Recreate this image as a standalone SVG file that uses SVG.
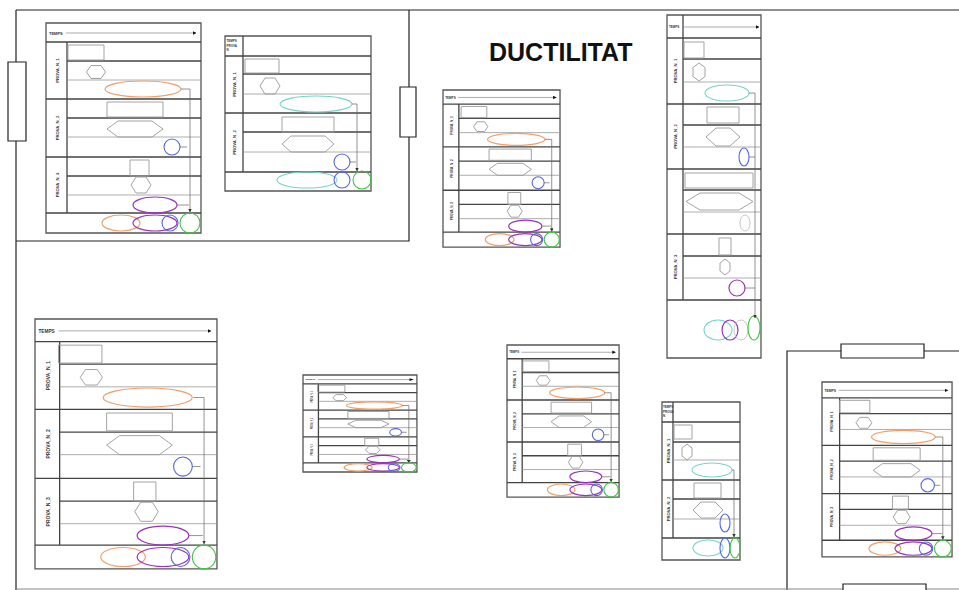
<svg xmlns="http://www.w3.org/2000/svg" width="959" height="590" viewBox="0 0 959 590">
<style>
*{vector-effect:non-scaling-stroke}
.bg{fill:#fff}
.ol{fill:none;stroke:#222;stroke-width:1.2}
.rs{fill:#fff;stroke:#222;stroke-width:1.2}
.fr{fill:#fff;stroke:#555;stroke-width:1.3}
.ln{fill:none;stroke:#444;stroke-width:1.3}
.sl{fill:none;stroke:#999;stroke-width:0.8}
.ha{stroke:#888;stroke-width:0.7}
.sh{fill:none;stroke:#999;stroke-width:0.9}
.or{fill:none;stroke:#f0a068;stroke-width:1.2}
.bl{fill:none;stroke:#5566dd;stroke-width:1.1}
.pu{fill:none;stroke:#9933bb;stroke-width:1.2}
.gr{fill:none;stroke:#44c444;stroke-width:1.1}
.cy{fill:none;stroke:#77d4cc;stroke-width:1.1}
.lg{fill:none;stroke:#c8c8c8;stroke-width:1}
.cn{fill:none;stroke:#666;stroke-width:0.7}
.tp{font-family:"Liberation Sans",Arial,sans-serif;font-size:4px;font-weight:bold;fill:#333}
.ts{font-family:"Liberation Sans",Arial,sans-serif;font-size:3px;font-weight:bold;fill:#333}
.lb{font-family:"Liberation Sans",Arial,sans-serif;font-size:4.2px;font-weight:bold;fill:#333;text-anchor:middle}
.tt{font-family:"Liberation Sans",Arial,sans-serif;font-size:25px;font-weight:bold;fill:#111}
</style>
<defs>
<marker id="ah" viewBox="0 0 10 10" refX="9" refY="5" markerWidth="5" markerHeight="5" orient="auto"><path d="M0 0L10 5L0 10z" fill="#111"/></marker>
<marker id="ca" viewBox="0 0 10 10" refX="9" refY="5" markerWidth="5" markerHeight="5" orient="auto"><path d="M0 0L10 5L0 10z" fill="#333"/></marker>
</defs>
<rect class="bg" width="959" height="590"/>

<g id="frame">
<path class="ol" d="M16 241H409V10M16 10H959M16 10V590M959 351H787V590"/>
<path d="M16 589H959" fill="none" stroke="#888" stroke-width="1"/>
<rect class="rs" x="8" y="62" width="18" height="79"/>
<rect class="rs" x="400" y="87" width="16" height="50"/>
<rect class="rs" x="841" y="344" width="83" height="14"/>
<rect class="rs" x="843" y="584" width="83" height="10"/>
</g>

<text id="title" class="tt" x="489" y="61">DUCTILITAT</text>

<g id="chartA" transform="translate(46,23)">
<rect class="fr" x="0" y="0" width="155" height="210"/>
<text class="tp" x="3" y="11.5">TEMPS</text>
<line class="ha" x1="20" y1="10" x2="150" y2="10" marker-end="url(#ah)"/>
<path class="ln" d="M0 19H155M0 76H155M0 134H155M0 190H155M21 19V190M21 38H155M21 95H155M21 153H155"/>
<path class="sl" d="M21 57H155M21 114H155M21 172H155"/>
<text class="lb" transform="translate(13,47.5) rotate(-90)">PROVA_N_1</text>
<text class="lb" transform="translate(13,105) rotate(-90)">PROVA_N_2</text>
<text class="lb" transform="translate(13,162) rotate(-90)">PROVA_N_3</text>
<rect class="sh" x="22" y="22" width="36" height="15"/>
<polygon class="sh" points="40.5,49 45,42.5 55,42.5 59.5,49 55,55.5 45,55.5"/>
<ellipse class="or" cx="97" cy="66" rx="38" ry="8"/>
<rect class="sh" x="61" y="79" width="56" height="15"/>
<polygon class="sh" points="61,106 72,98 106,98 117,106 106,114 72,114"/>
<circle class="bl" cx="126" cy="124" r="8"/>
<rect class="sh" x="84" y="137" width="19" height="16"/>
<polygon class="sh" points="85,162 90,154 100,154 105,162 100,170 90,170"/>
<ellipse class="pu" cx="109" cy="182" rx="22" ry="8"/>
<ellipse class="or" cx="75" cy="200" rx="19" ry="8"/>
<ellipse class="pu" cx="109" cy="200" rx="22" ry="8"/>
<circle class="bl" cx="124" cy="200" r="8"/>
<circle class="gr" cx="144" cy="200" r="10"/>
<path class="cn" d="M135 66H144V189" marker-end="url(#ca)"/>
<path class="cn" d="M134 124H141M131 182H143"/>
</g>

<g id="chartB" transform="translate(225,36)">
<rect class="fr" x="0" y="0" width="146" height="155"/>
<text class="ts" x="1.5" y="6">TEMPS</text>
<text class="ts" x="1.5" y="10.5">PROVA</text>
<text class="ts" x="1.5" y="15">N</text>
<path class="ln" d="M0 20H146M0 77H146M0 136H146M18 0V136M18 38H146M18 96H146"/>
<path class="sl" d="M18 58H146M18 116H146"/>
<text class="lb" transform="translate(11,48.5) rotate(-90)">PROVA_N_1</text>
<text class="lb" transform="translate(11,106.5) rotate(-90)">PROVA_N_2</text>
<rect class="sh" x="20" y="23" width="34" height="14"/>
<polygon class="sh" points="35,50 40,42 50,42 55,50 50,58 40,58"/>
<ellipse class="cy" cx="91" cy="68" rx="36" ry="8"/>
<rect class="sh" x="57" y="81" width="52" height="15"/>
<polygon class="sh" points="57,108 66,100 100,100 109,108 100,116 66,116"/>
<circle class="bl" cx="117" cy="126" r="8"/>
<ellipse class="cy" cx="82" cy="144" rx="30" ry="8"/>
<circle class="bl" cx="117" cy="144" r="8"/>
<circle class="gr" cx="137" cy="144" r="9"/>
<path class="cn" d="M127 68H132V135" marker-end="url(#ca)"/>
<path class="cn" d="M125 126H131"/>
</g>

<g id="chartC" transform="translate(443,90) scale(0.755,0.748)">
<rect class="fr" x="0" y="0" width="155" height="210"/>
<text class="tp" x="3" y="11.5">TEMPS</text>
<line class="ha" x1="20" y1="10" x2="150" y2="10" marker-end="url(#ah)"/>
<path class="ln" d="M0 19H155M0 76H155M0 134H155M0 190H155M21 19V190M21 38H155M21 95H155M21 153H155"/>
<path class="sl" d="M21 57H155M21 114H155M21 172H155"/>
<text class="lb" transform="translate(13,47.5) rotate(-90)">PROVA_N_1</text>
<text class="lb" transform="translate(13,105) rotate(-90)">PROVA_N_2</text>
<text class="lb" transform="translate(13,162) rotate(-90)">PROVA_N_3</text>
<rect class="sh" x="24" y="22" width="34" height="15"/>
<polygon class="sh" points="40.5,49 45,42.5 55,42.5 59.5,49 55,55.5 45,55.5"/>
<ellipse class="or" cx="97" cy="66" rx="38" ry="8"/>
<rect class="sh" x="61" y="79" width="56" height="15"/>
<polygon class="sh" points="61,106 72,98 106,98 117,106 106,114 72,114"/>
<circle class="bl" cx="126" cy="124" r="8"/>
<rect class="sh" x="86" y="137" width="17" height="16"/>
<polygon class="sh" points="85,162 90,154 100,154 105,162 100,170 90,170"/>
<ellipse class="pu" cx="109" cy="182" rx="22" ry="8"/>
<ellipse class="or" cx="75" cy="200" rx="19" ry="8"/>
<ellipse class="pu" cx="109" cy="200" rx="22" ry="8"/>
<circle class="bl" cx="124" cy="200" r="8"/>
<circle class="gr" cx="144" cy="200" r="10"/>
<path class="cn" d="M135 66H144V189" marker-end="url(#ca)"/>
<path class="cn" d="M134 124H141M131 182H143"/>
</g>

<g id="chartD" transform="translate(35,319) scale(1.174,1.19)">
<rect class="fr" x="0" y="0" width="155" height="210"/>
<text class="tp" x="3" y="11.5">TEMPS</text>
<line class="ha" x1="20" y1="10" x2="150" y2="10" marker-end="url(#ah)"/>
<path class="ln" d="M0 19H155M0 76H155M0 134H155M0 190H155M21 19V190M21 38H155M21 95H155M21 153H155"/>
<path class="sl" d="M21 57H155M21 114H155M21 172H155"/>
<text class="lb" transform="translate(13,47.5) rotate(-90)">PROVA_N_1</text>
<text class="lb" transform="translate(13,105) rotate(-90)">PROVA_N_2</text>
<text class="lb" transform="translate(13,162) rotate(-90)">PROVA_N_3</text>
<rect class="sh" x="20" y="22" width="37" height="15"/>
<polygon class="sh" points="38.5,49 43,42.5 53,42.5 57.5,49 53,55.5 43,55.5"/>
<ellipse class="or" cx="96" cy="66" rx="38" ry="8"/>
<rect class="sh" x="61" y="79" width="56" height="15"/>
<polygon class="sh" points="61,106 72,98 106,98 117,106 106,114 72,114"/>
<circle class="bl" cx="126" cy="124" r="8"/>
<rect class="sh" x="84" y="137" width="19" height="16"/>
<polygon class="sh" points="85,162 90,154 100,154 105,162 100,170 90,170"/>
<ellipse class="pu" cx="109" cy="182" rx="22" ry="8"/>
<ellipse class="or" cx="75" cy="200" rx="19" ry="8"/>
<ellipse class="pu" cx="109" cy="200" rx="22" ry="8"/>
<circle class="bl" cx="124" cy="200" r="8"/>
<circle class="gr" cx="144" cy="200" r="10"/>
<path class="cn" d="M135 66H144V189" marker-end="url(#ca)"/>
<path class="cn" d="M134 124H141M131 182H143"/>
</g>

<g id="chartE" transform="translate(822,382) scale(0.839,0.833)">
<rect class="fr" x="0" y="0" width="155" height="210"/>
<text class="tp" x="3" y="11.5">TEMPS</text>
<line class="ha" x1="20" y1="10" x2="150" y2="10" marker-end="url(#ah)"/>
<path class="ln" d="M0 19H155M0 76H155M0 134H155M0 190H155M21 19V190M21 38H155M21 95H155M21 153H155"/>
<path class="sl" d="M21 57H155M21 114H155M21 172H155"/>
<text class="lb" transform="translate(13,47.5) rotate(-90)">PROVA_N_1</text>
<text class="lb" transform="translate(13,105) rotate(-90)">PROVA_N_2</text>
<text class="lb" transform="translate(13,162) rotate(-90)">PROVA_N_3</text>
<rect class="sh" x="21" y="22" width="36" height="15"/>
<polygon class="sh" points="40.5,49 45,42.5 55,42.5 59.5,49 55,55.5 45,55.5"/>
<ellipse class="or" cx="97" cy="66" rx="38" ry="8"/>
<rect class="sh" x="61" y="79" width="56" height="15"/>
<polygon class="sh" points="61,106 72,98 106,98 117,106 106,114 72,114"/>
<circle class="bl" cx="126" cy="124" r="8"/>
<rect class="sh" x="84" y="137" width="19" height="16"/>
<polygon class="sh" points="85,162 90,154 100,154 105,162 100,170 90,170"/>
<ellipse class="pu" cx="109" cy="182" rx="22" ry="8"/>
<ellipse class="or" cx="75" cy="200" rx="19" ry="8"/>
<ellipse class="pu" cx="109" cy="200" rx="22" ry="8"/>
<circle class="bl" cx="124" cy="200" r="8"/>
<circle class="gr" cx="144" cy="200" r="10"/>
<path class="cn" d="M135 66H144V189" marker-end="url(#ca)"/>
<path class="cn" d="M134 124H141M131 182H143"/>
</g>

<g id="chartF" transform="translate(507,345) scale(0.723,0.724)">
<rect class="fr" x="0" y="0" width="155" height="210"/>
<text class="tp" x="3" y="11.5">TEMPS</text>
<line class="ha" x1="20" y1="10" x2="150" y2="10" marker-end="url(#ah)"/>
<path class="ln" d="M0 19H155M0 76H155M0 134H155M0 190H155M21 19V190M21 38H155M21 95H155M21 153H155"/>
<path class="sl" d="M21 57H155M21 114H155M21 172H155"/>
<text class="lb" transform="translate(13,47.5) rotate(-90)">PROVA_N_1</text>
<text class="lb" transform="translate(13,105) rotate(-90)">PROVA_N_2</text>
<text class="lb" transform="translate(13,162) rotate(-90)">PROVA_N_3</text>
<rect class="sh" x="22" y="22" width="36" height="15"/>
<polygon class="sh" points="40.5,49 45,42.5 55,42.5 59.5,49 55,55.5 45,55.5"/>
<ellipse class="or" cx="97" cy="66" rx="38" ry="8"/>
<rect class="sh" x="61" y="79" width="56" height="15"/>
<polygon class="sh" points="61,106 72,98 106,98 117,106 106,114 72,114"/>
<circle class="bl" cx="126" cy="124" r="8"/>
<rect class="sh" x="84" y="137" width="19" height="16"/>
<polygon class="sh" points="85,162 90,154 100,154 105,162 100,170 90,170"/>
<ellipse class="pu" cx="109" cy="182" rx="22" ry="8"/>
<ellipse class="or" cx="75" cy="200" rx="19" ry="8"/>
<ellipse class="pu" cx="109" cy="200" rx="22" ry="8"/>
<circle class="bl" cx="124" cy="200" r="8"/>
<circle class="gr" cx="144" cy="200" r="10"/>
<path class="cn" d="M135 66H144V189" marker-end="url(#ca)"/>
<path class="cn" d="M134 124H141M131 182H143"/>
</g>

<g id="chartG" transform="translate(303,375) scale(0.735,0.462)">
<rect class="fr" x="0" y="0" width="155" height="210"/>
<text class="tp" x="3" y="11.5">TEMPS</text>
<line class="ha" x1="20" y1="10" x2="150" y2="10" marker-end="url(#ah)"/>
<path class="ln" d="M0 19H155M0 76H155M0 134H155M0 190H155M21 19V190M21 38H155M21 95H155M21 153H155"/>
<path class="sl" d="M21 57H155M21 114H155M21 172H155"/>
<text class="lb" transform="translate(13,47.5) rotate(-90)">PROVA_N_1</text>
<text class="lb" transform="translate(13,105) rotate(-90)">PROVA_N_2</text>
<text class="lb" transform="translate(13,162) rotate(-90)">PROVA_N_3</text>
<rect class="sh" x="20" y="22" width="37" height="15"/>
<polygon class="sh" points="40.5,49 45,42.5 55,42.5 59.5,49 55,55.5 45,55.5"/>
<ellipse class="or" cx="97" cy="66" rx="38" ry="8"/>
<rect class="sh" x="61" y="79" width="56" height="15"/>
<polygon class="sh" points="61,106 72,98 106,98 117,106 106,114 72,114"/>
<circle class="bl" cx="126" cy="124" r="8"/>
<rect class="sh" x="84" y="137" width="19" height="16"/>
<polygon class="sh" points="85,162 90,154 100,154 105,162 100,170 90,170"/>
<ellipse class="pu" cx="109" cy="182" rx="22" ry="8"/>
<ellipse class="or" cx="75" cy="200" rx="19" ry="8"/>
<ellipse class="pu" cx="109" cy="200" rx="22" ry="8"/>
<circle class="bl" cx="124" cy="200" r="8"/>
<circle class="gr" cx="144" cy="200" r="10"/>
<path class="cn" d="M135 66H144V189" marker-end="url(#ca)"/>
<path class="cn" d="M134 124H141M131 182H143"/>
</g>

<g id="chartH">
<rect class="fr" x="667" y="15" width="94" height="343"/>
<text class="ts" x="669" y="28">TEMPS</text>
<line class="ha" x1="684" y1="27" x2="759" y2="27" marker-end="url(#ah)"/>
<path class="ln" d="M667 38H761M667 104H761M667 169H761M667 234H761M667 300H761M683 15V300M683 59H761M683 125H761M683 190H761M683 256H761"/>
<path class="sl" d="M683 82H761M683 147H761M683 212H761M683 278H761"/>
<text class="lb" transform="translate(677,71) rotate(-90)">PROVA_N_1</text>
<text class="lb" transform="translate(677,136.5) rotate(-90)">PROVA_N_2</text>
<text class="lb" transform="translate(677,267) rotate(-90)">PROVA_N_3</text>
<rect class="sh" x="684" y="42" width="20" height="16"/>
<polygon class="sh" points="699,63 705,67.5 705,76.5 699,81 693,76.5 693,67.5"/>
<ellipse class="cy" cx="727" cy="93" rx="22" ry="8"/>
<rect class="sh" x="707" y="107" width="32" height="16"/>
<polygon class="sh" points="706,137 716,128 730,128 740,137 730,146 716,146"/>
<ellipse class="bl" cx="744" cy="157" rx="5" ry="9"/>
<rect class="sh" x="685" y="173" width="68" height="15"/>
<polygon class="sh" points="686,201.5 700,193 739,193 753,201.5 739,210 700,210"/>
<ellipse class="lg" cx="745" cy="223" rx="5" ry="8"/>
<rect class="sh" x="719" y="238" width="12" height="17"/>
<polygon class="sh" points="725,259 730,263 730,271 725,275 720,271 720,263"/>
<circle class="pu" cx="737" cy="288" r="8"/>
<ellipse class="cy" cx="718" cy="330" rx="14" ry="10"/>
<ellipse class="pu" cx="730" cy="330" rx="8" ry="10"/>
<ellipse class="lg" cx="741" cy="330" rx="7" ry="10"/>
<ellipse class="gr" cx="754" cy="328" rx="6" ry="12"/>
<path class="cn" d="M749 93H755V318" marker-end="url(#ca)"/>
<path class="cn" d="M749 157H755M745 288H755"/>
</g>

<g id="chartI">
<rect class="fr" x="662" y="402" width="78" height="158"/>
<text class="ts" x="663" y="408">TEMPS</text>
<text class="ts" x="663" y="412.5">PROVA</text>
<text class="ts" x="663" y="417">N</text>
<path class="ln" d="M662 422H740M662 480H740M662 538H740M673 402V538M673 442H740M673 499H740"/>
<path class="sl" d="M673 460H740M673 519H740"/>
<text class="lb" transform="translate(670,451) rotate(-90)">PROVA_N_1</text>
<text class="lb" transform="translate(670,509) rotate(-90)">PROVA_N_2</text>
<rect class="sh" x="674" y="425" width="18" height="14"/>
<polygon class="sh" points="687,444 692,448 692,456 687,460 682,456 682,448"/>
<ellipse class="cy" cx="712" cy="470" rx="20" ry="7"/>
<rect class="sh" x="694" y="483" width="27" height="15"/>
<polygon class="sh" points="693,510 701,502 715,502 723,510 715,518 701,518"/>
<ellipse class="bl" cx="725" cy="523" rx="5" ry="9"/>
<ellipse class="cy" cx="708" cy="548" rx="15" ry="8"/>
<ellipse class="bl" cx="725" cy="548" rx="5" ry="10"/>
<ellipse class="gr" cx="735" cy="548" rx="5" ry="10"/>
<path class="cn" d="M732 470H734V537" marker-end="url(#ca)"/>
</g>
</svg>
